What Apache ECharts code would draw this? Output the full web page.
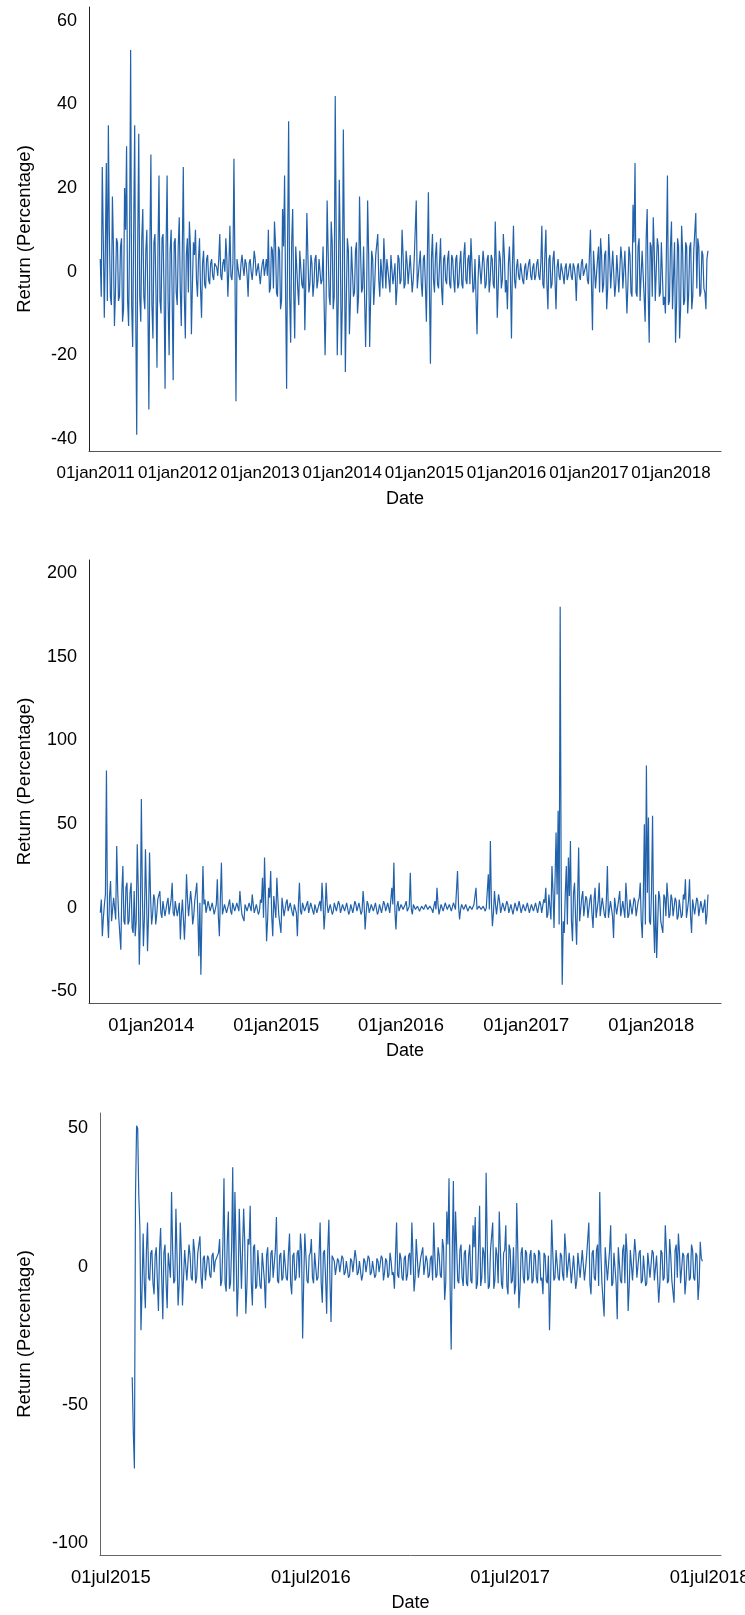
<!DOCTYPE html>
<html>
<head>
<meta charset="utf-8">
<script src="https://cdn.jsdelivr.net/npm/echarts@6/dist/echarts.min.js"></script>
<style>
html,body{margin:0;padding:0;background:#fff;}
#chart{width:745px;height:1615px;}
</style>
</head>
<body>
<div id="chart"></div>
<script>
// ---- Panel 1: daily returns 2011-2018 (read every 9 days, plus mid-step band values) ----
const p1Start = [2011, 0, 22];
const p1StepDays = 9;
const p1Values = [
 3,25,-11,26,35,-6,18,-13,8,-7,6,-12,20,30,-13,53,-18,35,-39,33,
 -12,15,-9,10,-33,28,-16,9,-23,23,-10,9,-28,23,-20,10,-26,8,-8,13,
 -13,25,-16,8,12,-15,7,10,-6,8,-11,5,-4,4,-3,3,-2,2,-1,9,
 -2,3,8,-6,11,-2,27,-31,3,-2,4,-1,2,-6,3,-2,5,-1,2,-3,
 2,-1,3,10,-4,5,12,-5,6,-9,15,23,-28,36,-17,15,-16,6,-8,5,
 -4,-14,14,-5,4,-6,3,-4,3,-3,6,-20,17,-6,12,-9,42,-20,22,-20,
 34,-24,8,-15,6,-6,5,-10,18,-5,6,-18,17,-18,5,-8,4,9,-6,3,
 8,-4,3,-5,4,-3,-8,4,-3,10,-4,5,-3,4,-5,3,17,-4,5,-6,
 4,-12,19,-22,9,-5,7,-4,8,-8,4,-3,5,-4,3,-5,4,-3,5,-4,
 7,-3,4,8,-5,3,-15,4,-3,5,-4,3,-5,4,-3,12,-11,5,-4,9,
 -5,-9,6,-16,11,-4,3,-2,2,-3,2,-2,3,-2,2,-1,3,-2,11,-4,
 10,-9,4,-3,5,-9,3,-2,2,-3,2,-1,2,-2,1,-7,2,-2,3,-1,
 2,-3,10,-14,5,-4,6,8,-5,4,-9,9,-4,5,-6,4,-5,6,-4,5,
 -10,6,-5,16,26,-6,8,-7,5,-12,15,-17,6,13,-7,8,-6,7,-8,-10,
 23,-7,12,-9,-17,8,-16,11,-8,7,-10,6,-9,5,14,8,-6,5,-4,-9,
 5
];
const p1Mid = [
 -6,8,5,-7,9,-8,6,-5,7,-6,8,-9,10,-7,9,-8,10,-9,7,-6,
 8,-6,5,-7,6,-8,7,-5,6,-7,8,-5,6,-7,5,-6,7,-5,6,-4,5,-6,4,-5,6,
 -3,4,-2,3,-4,2,-3,3,-2,2,-1,
 2,1,3,-1,2,0,3,1,-1,2,0,3,-1,2,1,3,-1,2,0,1,3,-1,2,0,3,1,-1,
 -5,6,-4,7,-6,5,-7,6,-5,8,-6,7,-5,6,-4,5,-3,
 3,-2,4,-3,2,-3,4,-2,3,-2,
 6,-7,5,-8,7,-6,8,-7,6,-8,7,-6,5,-7,6,-5,7,-6,5,-4,6,-5,4,-6,3,
 -3,4,-2,3,-4,2,3,-2,4,-3,2,-4,3,-2,4,-3,2,-3,4,-2,3,-4,2,-3,3,
 -3,4,-4,3,-2,4,-3,2,-4,3,-2,3,-3,4,-2,3,-4,2,-3,4,-2,3,-3,2,-4,3,-2,4,-3,2,-3,4,-2,3,-4,2,-3,3,-2,4,
 -2,2,-1,2,-2,1,-1,2,-2,1,-2,2,-1,1,-2,2,-1,2,
 -3,4,-3,3,-4,3,-2,
 1,-1,2,-1,1,-2,1,-1,2,-1,1,-1,2,-1,1,-2,
 4,-3,5,-4,3,-5,4,-3,5,-4,3,-4,5,-3,4,-5,3,-4,5,-3,4,
 -6,7,-5,6,-7,5,-6,8,-5,7,-6,5,-7,6,-5,7,-6,5,-8,6,-9,7,-8,6,-9,5,-7,6,-5,7,-6,5,-4,6,-5,4,-5,3
];
const p1Ticks = ['2011-01-01','2012-01-01','2013-01-01','2014-01-01','2015-01-01','2016-01-01','2017-01-01','2018-01-01'];
const p1YTicks = [-40, -20, 0, 20, 40, 60];

// ---- Panel 2: daily returns 2013-2018 (read every 6 days, plus mid-step band values) ----
const p2Start = [2013, 7, 5];
const p2StepDays = 6;
const p2Values = [
 -3,-17,2,82,-18,16,-8,6,37,-6,-25,25,-10,15,-8,15,-15,-17,38,-34,
 65,-23,35,-26,33,-10,8,-10,5,10,-6,4,-5,6,-4,15,-5,4,-6,-19,
 5,-19,20,-5,10,-10,4,15,-29,-40,25,5,-4,3,-3,4,-5,17,-17,27,
 -4,3,-3,5,-4,3,-2,4,10,-4,-8,3,-3,4,8,-3,2,-4,5,18,
 30,-20,12,22,-17,8,18,-5,-15,6,-4,5,-3,4,-5,3,-17,15,-4,3,
 -3,4,-2,3,-4,2,-3,4,15,-13,15,-3,2,-4,3,-2,4,-3,2,-2,
 3,-4,2,-3,4,-2,3,-4,10,-13,4,-3,2,-2,3,-4,2,-3,4,-2,
 3,-3,12,27,-13,4,-3,3,-2,4,-3,21,-4,3,-2,2,-3,2,-2,3,
 -1,2,-3,4,12,-4,2,-2,3,-1,2,-2,3,-1,22,-7,2,-1,2,-2,
 1,-1,2,12,-1,1,-1,1,0,20,40,-11,10,-4,8,-3,3,-2,4,-3,
 2,-4,3,-2,4,-3,2,-2,3,-3,2,-2,3,-3,4,-3,5,12,-4,8,
 25,-12,45,58,180,-46,-15,25,30,40,-20,15,-22,36,-8,10,-6,5,-5,8,
 -12,12,-5,15,-4,6,-6,25,-5,4,-18,6,-4,10,-5,4,15,-6,5,-4,
 6,-5,4,15,-18,50,85,54,-10,55,-27,-30,10,-8,-15,6,15,-6,8,-5,
 6,-7,5,-6,8,17,-5,17,-15,6,-5,4,-6,5,-4,-10,8
];
const p2Mid = [
 5,-6,8,-5,7,-8,6,-7,9,-6,10,-8,12,-10,9,-12,10,-8,12,-9,8,-6,7,-5,6,-4,5,
 -4,5,-3,4,-5,3,-4,5,-3,4,-5,3,-4,4,-3,5,-4,3,-5,4,-3,
 3,-4,2,-3,4,-2,3,-4,2,
 -5,6,-4,
 2,-3,2,-2,3,-2,3,-2,2,-3,2,-2,3,-2,2,-3,2,-2,3,
 -6,5,-7,6,-5,7,-6,5,-4,6,-5,
 3,-2,3,-3,2,-3,2,-2,3,-2,2,-3,3,-2,2,-3,2,-2,3,-3,2,-2,3,-2,2,-3,2,-3,2,-2,
 3,-2,2,-3,2,-2,3,-2,2,-3,2,-2,3,-2,3,-2,2,-3,2,-2,3,-2,
 2,-2,1,-2,2,-1,2,-2,1,-1,2,-1,1,-2,1,-1,2,-1,1,-1,1,-1,2,-1,1,-1,1,-2,1,-1,
 1,-1,1,-1,2,-1,1,-1,1,-1,2,-1,1,-1,1,-2,1,-1,
 3,-3,2,-3,4,-2,3,-3,2,-2,3,-3,2,-2,3,-3,2,-3,3,-2,3,-2,4,-3,2,-3,3,
 -6,8,-7,10,-12,8,-10,12,-8,9,-10,7,-8,9,-6,7,-8,6,-5,7,-6,5,-4,
 5,-6,4,-5,6,-4,5,-6,4,-5,6,-4,5,-5,4,-6,5,-4,6,-5,4,-5,
 6,-8,7,-10,9,-8,10,-7,8,-9,6,-7,8,
 -5,6,-4,5,-6,4,-5,6,-4,5,-6,4,-5,5,-4,6,-5,4,-3,5,-4
];
const p2Ticks = ['2014-01-01','2015-01-01','2016-01-01','2017-01-01','2018-01-01'];
const p2YTicks = [-50, 0, 50, 100, 150, 200];

// ---- Panel 3: daily returns 2015-2018 (read every 4 days, plus mid-step band values) ----
const p3Start = [2015, 7, 9];
const p3StepDays = 4;
const p3Values = [
 -40,-73,51,26,-23,12,-15,16,-5,6,-10,7,-16,14,-19,8,-15,5,27,-6,
 21,-14,16,-14,6,-5,8,-4,10,-6,5,11,-8,4,-5,3,-4,5,2,4,
 10,-5,32,-9,20,-6,36,27,-18,21,-8,21,-17,10,22,-14,8,-7,6,-8,
 5,-15,7,-5,6,-4,18,-6,5,-4,6,-5,12,-10,5,-4,6,12,-26,12,
 -5,4,10,-6,5,-4,16,-13,6,-17,17,-20,4,-3,3,-2,4,-3,2,-4,
 3,-2,6,-3,2,-5,3,-2,4,-3,2,-4,3,-2,4,-5,3,-4,5,-3,
 -8,16,-4,3,-5,4,-3,5,16,-9,10,-4,3,7,-3,2,-3,4,16,-4,
 7,-3,10,-12,20,32,-30,31,20,-5,6,-4,5,-6,4,-5,15,18,-6,22,
 -4,5,34,-8,6,16,-5,4,20,-6,5,15,-10,6,-5,-10,23,-15,5,-4,
 6,-5,4,-6,5,-4,6,-5,-10,4,-6,-23,17,-5,6,-4,5,-3,12,-4,
 5,-6,4,-8,5,-4,6,-5,4,16,-10,6,-5,8,27,-6,-18,7,-5,15,
 -6,5,-19,7,-6,8,12,-16,6,-5,10,-4,5,-6,4,-7,5,-4,6,-5,
 4,-13,6,-5,15,-6,10,-5,-13,8,12,-6,5,-10,4,-5,8,-4,5,-12,
 9,2
];
const p3Mid = [
 -60,26,50,14,-8,
 -5,6,-4,5,-6,4,-5,6,-4,5,-6,5,-4,6,-5,4,-6,5,-4,6,-5,4,-5,6,-4,5,-4,3,-5,4,-3,4,-2,3,5,
 -7,8,-6,9,-8,7,-9,8,-7,6,-8,9,-7,8,-6,7,-8,6,-7,5,
 -5,4,-6,5,-4,6,-5,4,-5,6,-4,5,-6,4,-5,5,-4,6,-5,4,-6,5,-4,5,-5,4,-6,5,-4,6,-5,4,
 2,-3,2,-2,3,-2,2,-3,2,-2,3,-2,2,-3,2,-2,3,-2,2,-3,2,-2,3,-2,2,-3,2,-2,
 4,-3,5,-4,3,-5,4,-3,4,-4,3,-4,5,-3,4,-4,3,-5,4,-3,4,-4,
 7,-6,8,-7,6,-8,7,-6,8,-7,6,-7,8,-6,7,-8,6,-7,7,-6,8,-7,6,-8,7,-6,7,-8,6,-7,8,-6,7,-7,6,-8,7,-6,
 5,-4,6,-5,4,-6,5,-4,5,-5,4,-6,5,-4,6,-5,4,-5,6,-4,5,-6,4,-5,5,-4,6,-5,4,-6,5,-4,
 6,-7,5,-6,7,-5,6,-7,5,-6,7,-5,6,-6,5,-7,6,-5,
 5,-4,6,-5,4,-6,5,-4,5,-5,4,-6,5,-4,6,-5,4,-5,6,-4,5,-6,4,-5,5,-4,6,-5,4,-6,3
];
const p3Ticks = ['2015-07-01','2016-07-01','2017-07-01','2018-07-01'];
const p3YTicks = [-100, -50, 0, 50];

// ---- helpers ----
const DAY = 86400000;
const MONTHS = ['jan','feb','mar','apr','may','jun','jul','aug','sep','oct','nov','dec'];
// reading at each step, followed by the band value read half a step later
function toSeries(start, step, values, mids) {
  const t0 = Date.UTC(start[0], start[1], start[2]);
  const out = [];
  values.forEach((v, i) => {
    out.push([t0 + i * step * DAY, v]);
    if (i < values.length - 1 && mids[i] !== undefined) {
      out.push([t0 + (i + 0.5) * step * DAY, mids[i]]);
    }
  });
  return out;
}
function ts(s) { const p = s.split('-').map(Number); return Date.UTC(p[0], p[1] - 1, p[2]); }
function fmtDate(v) {
  const d = new Date(v);
  const dd = String(d.getUTCDate()).padStart(2, '0');
  return dd + MONTHS[d.getUTCMonth()] + d.getUTCFullYear();
}

const LINE = '#2262ab';
const FONT = "'Liberation Sans', Arial, sans-serif";

function xAxisDef(gridIndex, min, max, ticks, axisColor, labelSize) {
  return {
    type: 'value', gridIndex: gridIndex, scale: true,
    min: ts(min), max: ts(max),
    name: 'Date', nameLocation: 'middle', nameGap: 39,
    nameTextStyle: { color: '#000', fontSize: 18, fontFamily: FONT },
    axisLine: { show: true, onZero: false, lineStyle: { color: axisColor, width: 1 } },
    axisTick: { show: false },
    splitLine: { show: false },
    axisLabel: {
      customValues: ticks.map(ts),
      formatter: fmtDate,
      showMinLabel: true, showMaxLabel: true,
      color: '#000', fontSize: labelSize, fontFamily: FONT,
      margin: 14, hideOverlap: false
    }
  };
}
function yAxisDef(gridIndex, min, max, ticks, axisColor, gap) {
  return {
    type: 'value', gridIndex: gridIndex, min: min, max: max,
    name: 'Return (Percentage)', nameLocation: 'middle', nameGap: gap, nameRotate: 90,
    nameTextStyle: { color: '#000', fontSize: 18.5, fontFamily: FONT },
    axisLine: { show: true, onZero: false, lineStyle: { color: axisColor, width: 1 } },
    axisTick: { show: false },
    splitLine: { show: false },
    axisLabel: {
      customValues: ticks,
      showMinLabel: true, showMaxLabel: true,
      color: '#000', fontSize: 18, fontFamily: FONT, margin: 12, hideOverlap: false
    }
  };
}
function lineSeries(idx, data) {
  return {
    type: 'line', xAxisIndex: idx, yAxisIndex: idx, data: data,
    showSymbol: false, symbol: 'none',
    lineStyle: { color: LINE, width: 1.2 }, itemStyle: { color: LINE },
    silent: true, animation: false
  };
}

const chart = echarts.init(document.getElementById('chart'), null, { renderer: 'canvas' });
chart.setOption({
  backgroundColor: '#fff',
  animation: false,
  grid: [
    { left: 89, right: 24, top: 7, height: 444, containLabel: false, outerBoundsMode: 'none' },
    { left: 89, right: 24, top: 560, height: 443, containLabel: false, outerBoundsMode: 'none' },
    { left: 100, right: 24, top: 1113, height: 442, containLabel: false, outerBoundsMode: 'none' }
  ],
  xAxis: [
    xAxisDef(0, '2010-12-03', '2018-08-11', p1Ticks, '#555', 17),
    xAxisDef(1, '2013-07-03', '2018-07-24', p2Ticks, '#555', 18.4),
    xAxisDef(2, '2015-06-11', '2018-07-22', p3Ticks, '#666', 18.4)
  ],
  yAxis: [
    yAxisDef(0, -42.9, 63.3, p1YTicks, '#222', 55),
    yAxisDef(1, -56.9, 207.9, p2YTicks, '#222', 55),
    yAxisDef(2, -104.3, 55.6, p3YTicks, '#666', 66)
  ],
  series: [
    lineSeries(0, toSeries(p1Start, p1StepDays, p1Values, p1Mid)),
    lineSeries(1, toSeries(p2Start, p2StepDays, p2Values, p2Mid)),
    lineSeries(2, toSeries(p3Start, p3StepDays, p3Values, p3Mid))
  ]
});
</script>
</body>
</html>
